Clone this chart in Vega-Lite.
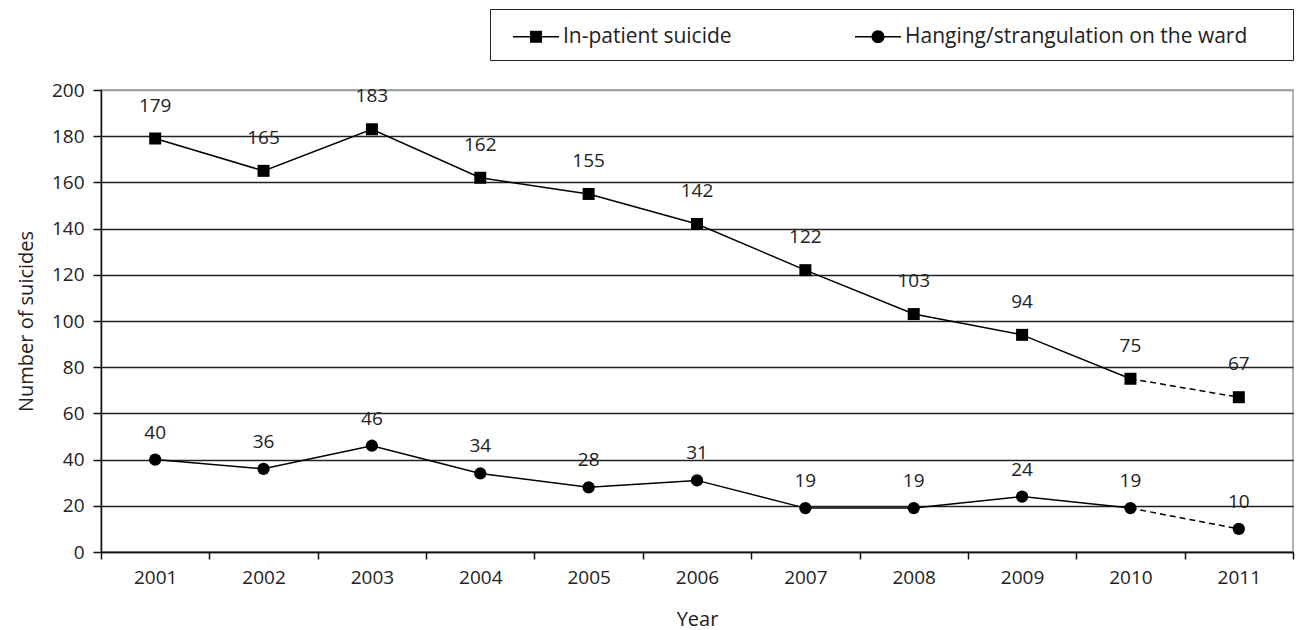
{
  "$schema": "https://vega.github.io/schema/vega-lite/v6.json",
  "autosize": "none",
  "padding": {"left": 101, "top": 90, "right": 6, "bottom": 78},
  "width": 1192,
  "height": 462,
  "background": "white",
  "config": {
    "view": {"stroke": "#999", "strokeWidth": 1.5},
    "font": "Open Sans"
  },
  "data": {
    "values": [
      {"year": 2001, "series": "In-patient suicide", "value": 179},
      {"year": 2002, "series": "In-patient suicide", "value": 165},
      {"year": 2003, "series": "In-patient suicide", "value": 183},
      {"year": 2004, "series": "In-patient suicide", "value": 162},
      {"year": 2005, "series": "In-patient suicide", "value": 155},
      {"year": 2006, "series": "In-patient suicide", "value": 142},
      {"year": 2007, "series": "In-patient suicide", "value": 122},
      {"year": 2008, "series": "In-patient suicide", "value": 103},
      {"year": 2009, "series": "In-patient suicide", "value": 94},
      {"year": 2010, "series": "In-patient suicide", "value": 75},
      {"year": 2011, "series": "In-patient suicide", "value": 67},
      {"year": 2001, "series": "Hanging/strangulation on the ward", "value": 40},
      {"year": 2002, "series": "Hanging/strangulation on the ward", "value": 36},
      {"year": 2003, "series": "Hanging/strangulation on the ward", "value": 46},
      {"year": 2004, "series": "Hanging/strangulation on the ward", "value": 34},
      {"year": 2005, "series": "Hanging/strangulation on the ward", "value": 28},
      {"year": 2006, "series": "Hanging/strangulation on the ward", "value": 31},
      {"year": 2007, "series": "Hanging/strangulation on the ward", "value": 19},
      {"year": 2008, "series": "Hanging/strangulation on the ward", "value": 19},
      {"year": 2009, "series": "Hanging/strangulation on the ward", "value": 24},
      {"year": 2010, "series": "Hanging/strangulation on the ward", "value": 19},
      {"year": 2011, "series": "Hanging/strangulation on the ward", "value": 10}
    ]
  },
  "encoding": {
    "x": {
      "field": "year", "type": "ordinal",
      "scale": {"type": "band", "paddingInner": 0, "paddingOuter": 0},
      "axis": {
        "title": "Year", "titleFont": "Open Sans", "titleFontSize": 20, "titleFontWeight": "normal",
        "titleColor": "#222", "titlePadding": 22,
        "labelAngle": 0, "labelFont": "Open Sans", "labelFontSize": 19, "labelColor": "#222", "labelPadding": 9,
        "tickBand": "extent", "tickSize": 7, "tickColor": "#111", "tickWidth": 1.5,
        "domainColor": "#111", "domainWidth": 1.5, "grid": false
      }
    },
    "y": {
      "field": "value", "type": "quantitative",
      "scale": {"domain": [0, 200], "nice": false},
      "axis": {
        "title": "Number of suicides", "titleFont": "Open Sans", "titleFontSize": 20, "titleFontWeight": "normal",
        "titleColor": "#222", "titlePadding": 15,
        "values": [0, 20, 40, 60, 80, 100, 120, 140, 160, 180, 200],
        "labelFont": "Open Sans", "labelFontSize": 19, "labelColor": "#222", "labelPadding": 9,
        "tickSize": 8, "tickColor": "#111", "tickWidth": 1.5,
        "domainColor": "#111", "domainWidth": 1.5,
        "grid": true, "gridWidth": 1.5,
        "gridColor": {"condition": {"test": "datum.value == 200", "value": "#999"}, "value": "#222"}
      }
    }
  },
  "layer": [
    {
      "transform": [{"filter": "datum.year <= 2010"}],
      "mark": {"type": "line", "color": "#000", "strokeWidth": 1.5},
      "encoding": {"detail": {"field": "series"}}
    },
    {
      "transform": [{"filter": "datum.year >= 2010"}],
      "mark": {"type": "line", "color": "#000", "strokeWidth": 1.5, "strokeDash": [6, 4]},
      "encoding": {"detail": {"field": "series"}}
    },
    {
      "transform": [{"filter": "datum.series == 'In-patient suicide'"}],
      "mark": {"type": "point", "shape": "square", "filled": true, "size": 144, "color": "#000", "opacity": 1}
    },
    {
      "transform": [{"filter": "datum.series != 'In-patient suicide'"}],
      "mark": {"type": "point", "shape": "circle", "filled": true, "size": 150, "color": "#000", "opacity": 1}
    },
    {
      "mark": {"type": "point", "filled": true, "color": "#000", "opacity": 0},
      "encoding": {
        "shape": {
          "field": "series", "type": "nominal",
          "scale": {
            "domain": ["In-patient suicide", "Hanging/strangulation on the ward"],
            "range": [
              "M-0.31,-0.0517H2.862V0.0517H-0.31ZM0.862,-0.414H1.69V0.414H0.862Z",
              "M-0.31,-0.0517H2.862V0.0517H-0.31ZM1.724,0A0.448,0.448,0,1,1,0.828,0A0.448,0.448,0,1,1,1.724,0ZM29,0L29,0"
            ]
          },
          "legend": {
            "title": null, "orient": "none", "legendX": 389, "legendY": -81,
            "direction": "horizontal", "columns": 2, "columnPadding": 113,
            "symbolSize": 841, "symbolStrokeWidth": 0,
            "symbolFillColor": "#000", "symbolOpacity": 1,
            "labelFont": "Open Sans", "labelFontSize": 21, "labelColor": "#222", "labelOffset": 31,
            "labelLimit": 0,
            "padding": 13, "strokeColor": "#222", "fillColor": "white",
            "encode": {
              "symbols": {
                "update": {
                  "fill": {"value": "#000"},
                  "fillOpacity": {"value": 1},
                  "strokeWidth": {"value": 0},
                  "opacity": {"value": 1}
                }
              }
            }
          }
        }
      }
    },
    {
      "transform": [{"filter": "datum.series == 'In-patient suicide'"}],
      "mark": {"type": "text", "font": "Open Sans", "fontSize": 19, "color": "#222", "baseline": "middle", "dy": -33},
      "encoding": {"text": {"field": "value", "type": "quantitative"}}
    },
    {
      "transform": [{"filter": "datum.series != 'In-patient suicide'"}],
      "mark": {"type": "text", "font": "Open Sans", "fontSize": 19, "color": "#222", "baseline": "middle", "dy": -27},
      "encoding": {"text": {"field": "value", "type": "quantitative"}}
    }
  ]
}
